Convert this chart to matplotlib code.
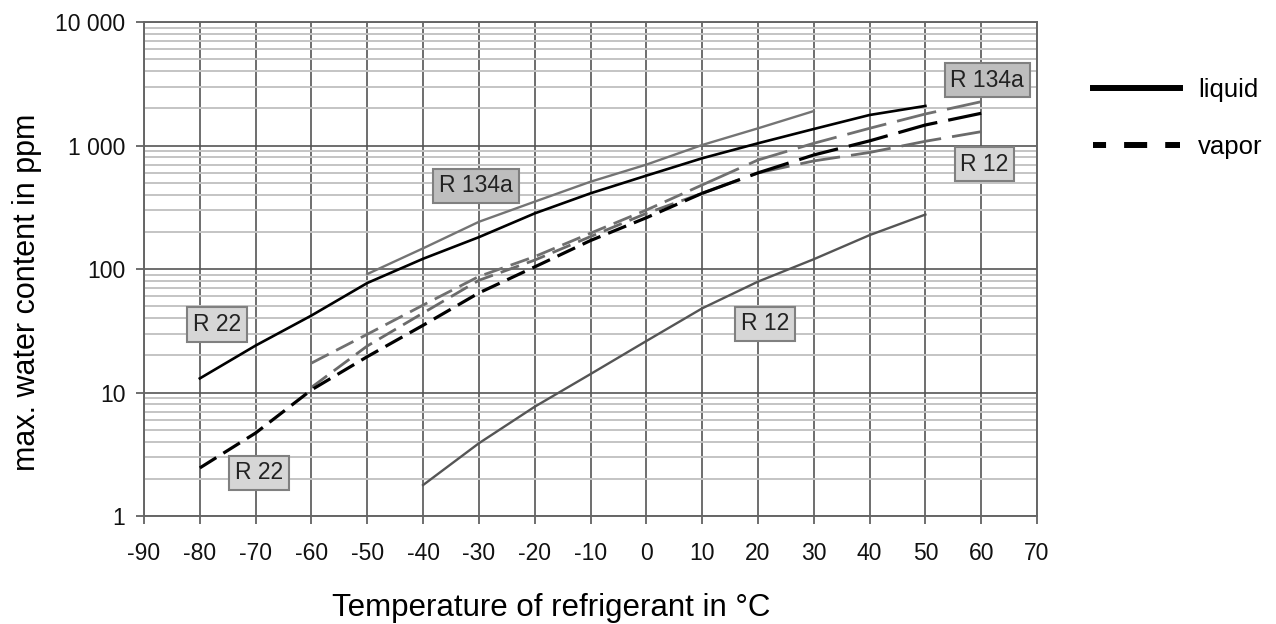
import matplotlib
matplotlib.use("Agg")
import matplotlib.pyplot as plt
from matplotlib.lines import Line2D
from matplotlib.ticker import FixedLocator, LogLocator, NullFormatter

plt.rcParams['font.family'] = ['Liberation Sans', 'DejaVu Sans']
plt.rcParams['lines.scale_dashes'] = False

# liquid phase
t_r22_liq = [-80, -70, -60, -50, -40, -30, -20, -10, 0, 10, 20, 30, 40, 50]
r22_liq = [13, 24, 42, 77, 121, 181, 282, 410, 570, 788, 1042, 1360, 1766, 2090]

t_r134a_liq = [-50, -40, -30, -20, -10, 0, 10, 20, 30]
r134a_liq = [91, 147, 241, 351, 509, 700, 1009, 1377, 1900]

t_r12_liq = [-40, -30, -20, -10, 0, 10, 20, 30, 40, 50]
r12_liq = [1.78, 3.88, 7.67, 14.1, 26.1, 48, 79, 120, 188, 276]

# vapor phase
t_r22_vap = [-80, -70, -60, -50, -40, -30, -20, -10, 0, 10, 20, 30, 40, 50, 60]
r22_vap = [2.45, 4.7, 10.5, 19.5, 35, 64, 104, 170, 260, 410, 600, 838, 1090, 1466, 1823]

t_r134a_vap = [-60, -50, -40, -30, -20, -10, 0, 10, 20, 30, 40, 50, 60]
r134a_vap = [17.3, 29.6, 51, 87, 126, 195, 300, 479, 763, 1042, 1378, 1800, 2263]

t_r12_vap = [-60, -50, -40, -30, -20, -10, 0, 10, 20, 30, 40, 50, 60]
r12_vap = [11, 23.8, 44, 81, 118, 183, 282, 410, 600, 750, 878, 1082, 1294]

x_ticks = list(range(-90, 71, 10))
y_ticks = [1, 10, 100, 1000, 10000]
y_ticklabels = ["1", "10", "100", "1 000", "10 000"]

# refrigerant labels: (text, x, y, fill)
labels = [
    ("R 134a", -30.5, 470, "#bebebe"),
    ("R 134a", 61.1, 3390, "#bebebe"),
    ("R 12", 60.6, 708, "#d6d6d6"),
    ("R 12", 21.3, 35.9, "#d6d6d6"),
    ("R 22", -76.9, 35.5, "#d6d6d6"),
    ("R 22", -69.4, 2.23, "#d6d6d6"),
]

fig = plt.figure(figsize=(12.76, 6.24), dpi=100)
ax = fig.add_axes([144 / 1276, 108 / 624, (1037 - 144) / 1276, (516 - 22) / 624])

short_dash = (0, (14, 6))
long_dash = (0, (29, 8))


def plot_vapor(t, v, **kw):
    # the original draws shorter dashes on the cold side, longer ones above 10 °C
    i = t.index(10)
    ax.plot(t[:i + 1], v[:i + 1], ls=short_dash, **kw)
    ax.plot(t[i:], v[i:], ls=long_dash, **kw)


ax.plot(t_r134a_liq, r134a_liq, color="#747474", lw=1.7, zorder=3)
ax.plot(t_r12_liq, r12_liq, color="#555555", lw=1.7, zorder=3)
ax.plot(t_r22_liq, r22_liq, color="black", lw=1.9, zorder=4)
plot_vapor(t_r134a_vap, r134a_vap, color="#707070", lw=2.0, zorder=3)
plot_vapor(t_r12_vap, r12_vap, color="#6a6a6a", lw=2.0, zorder=3)
plot_vapor(t_r22_vap, r22_vap, color="black", lw=2.3, zorder=4)

ax.set_yscale("log")
ax.set_xlim(-90, 70)
ax.set_ylim(1, 10000)

ax.xaxis.set_major_locator(FixedLocator(x_ticks))
ax.set_xticklabels([str(v) for v in x_ticks])
ax.yaxis.set_major_locator(FixedLocator(y_ticks))
ax.set_yticklabels(y_ticklabels)
ax.yaxis.set_minor_locator(LogLocator(base=10, subs=range(2, 10)))
ax.yaxis.set_minor_formatter(NullFormatter())

ax.grid(True, which="major", color="#555555", lw=1.2)
ax.grid(True, which="minor", axis="y", color="#c4c4c4", lw=1.4)
ax.set_axisbelow(True)
ax.tick_params(which="major", direction="out", length=5.5, width=1.2,
               color="#555555", labelsize=16.5, labelcolor="#111111")
ax.tick_params(axis="x", pad=13.5)
ax.tick_params(axis="y", pad=8)
ax.tick_params(which="minor", length=0)
for s in ax.spines.values():
    s.set_color("#666666")
    s.set_linewidth(1.4)

for txt, x, y, fc in labels:
    ax.text(x, y, txt, ha="center", va="center", fontsize=16.5, color="#222222",
            zorder=6, bbox=dict(boxstyle="square,pad=0.25", fc=fc, ec="#808080", lw=1.5))

fig.text(27 / 1276, 1 - 292 / 624, "max. water content in ppm", rotation=90,
         ha="center", va="center", fontsize=22)
fig.text(551 / 1276, 8 / 624, "Temperature of refrigerant in °C",
         ha="center", va="baseline", fontsize=22.5)

handles = [
    Line2D([], [], color="black", lw=4.3),
    Line2D([], [], color="black", lw=4.3, ls=(7.2, (16.6, 13))),
]
fig.legend(handles, ["liquid", "vapor"], loc="center left",
           bbox_to_anchor=(1093 / 1276, 1 - 118.5 / 624), frameon=False,
           fontsize=18.5, handlelength=3.38, handletextpad=0.7,
           labelspacing=1.3, borderpad=0, borderaxespad=0)

fig.savefig("out.png", dpi=100)
